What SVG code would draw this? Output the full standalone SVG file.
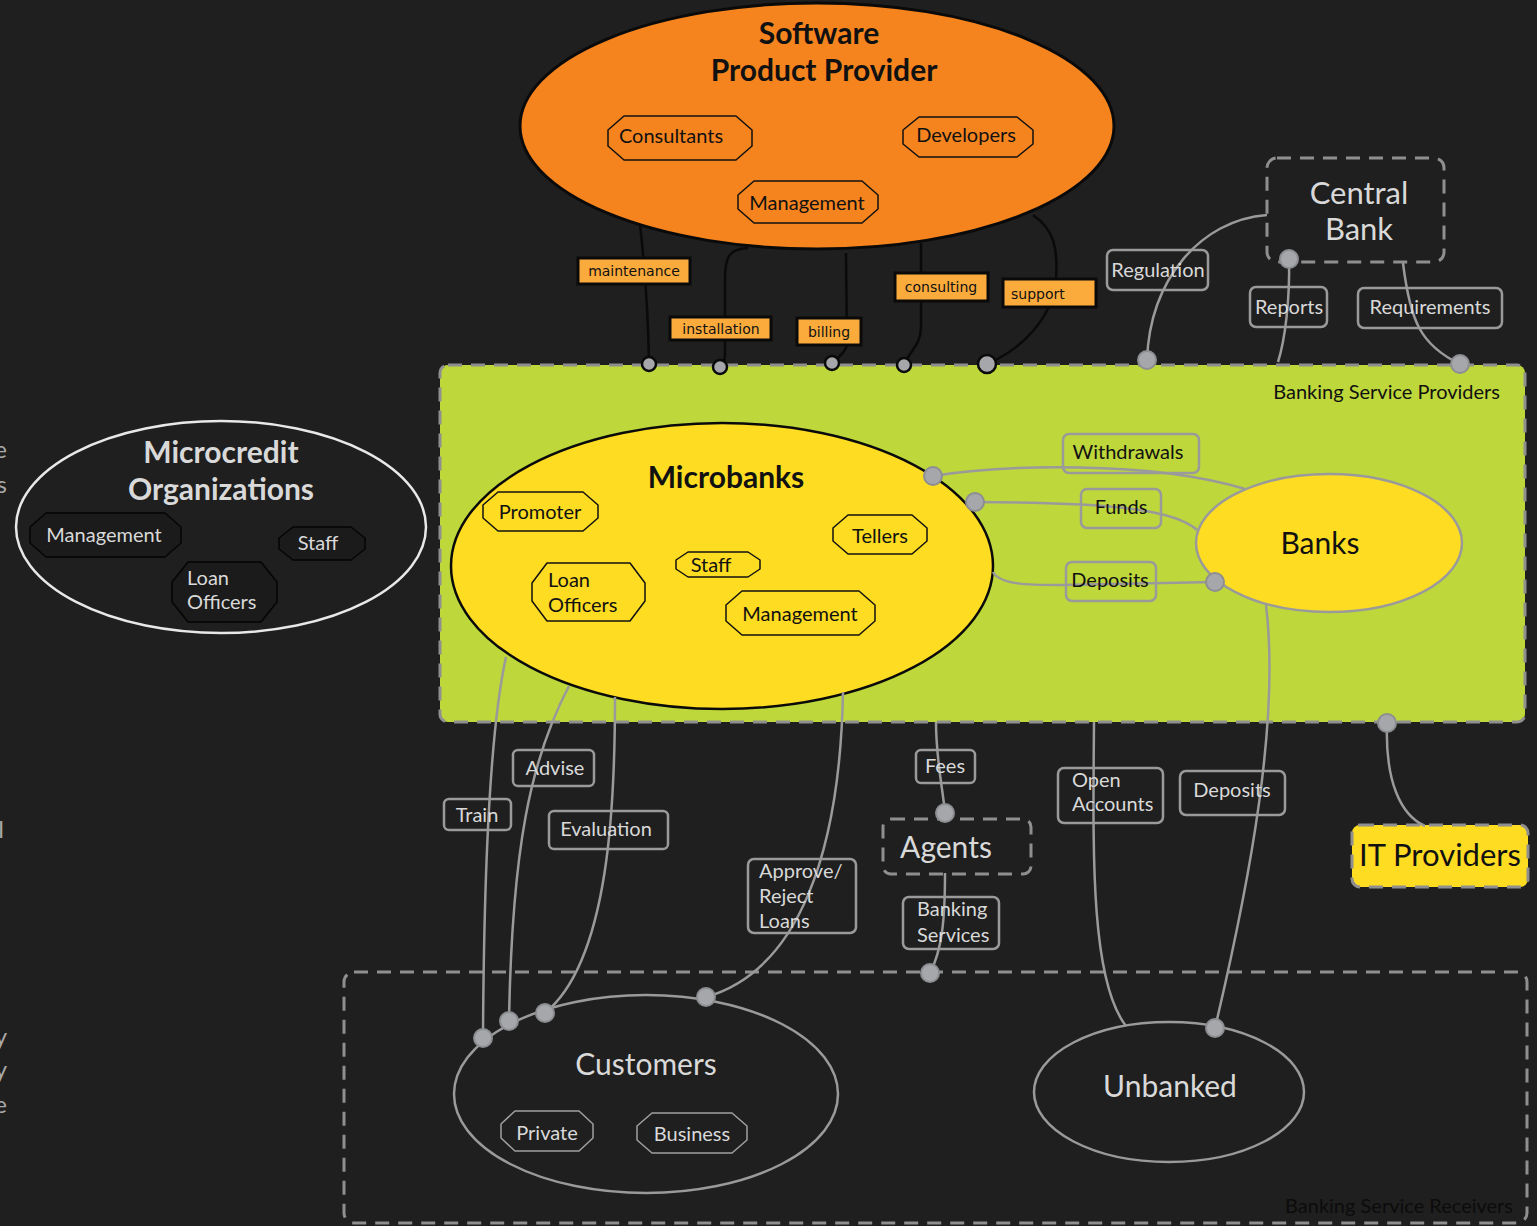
<svg xmlns="http://www.w3.org/2000/svg" width="1537" height="1226" viewBox="0 0 1537 1226">
  <defs>
    <style>
      .t { font-family: Lato, "Open Sans", "Liberation Sans", sans-serif; }
      .title { font-weight: bold; font-size: 30px; text-anchor: middle; }
      .dark { fill: #111; }
      .light { fill: #d9d9d9; }
      .mid { text-anchor: middle; }
      .sub { font-size: 20px; }
      .big { font-size: 30px; text-anchor: middle; }
      .group { fill: none; stroke: #8f8f8f; stroke-width: 3; stroke-dasharray: 14 9; }
      .sub-y { fill: #fddc22; stroke: #111; stroke-width: 1.5; stroke-linejoin: round; }
      .sub-o { fill: #f5841f; stroke: #111; stroke-width: 1.5; stroke-linejoin: round; }
      .sub-d { fill: #1b1b1b; stroke: #050505; stroke-width: 1.5; stroke-linejoin: round; }
      .sub-g { fill: none; stroke: #a0a0a0; stroke-width: 1.5; stroke-linejoin: round; }
      .edge-k { fill: none; stroke: #0a0a0a; stroke-width: 2.5; }
      .edge-g { fill: none; stroke: #9a9a9a; stroke-width: 2.5; }
      .lbl-o { fill: #fbab3c; stroke: #0a0a0a; stroke-width: 3; }
      .lbl-g { fill: none; stroke: #9a9a9a; stroke-width: 2.5; }
      .lbl-o-text { font-family: "DejaVu Sans", Verdana, sans-serif; font-size: 14px; fill: #111; text-anchor: middle; }
      .dot { fill: #a5a7ab; stroke: #8c8e92; stroke-width: 2; }
      .dot-k { fill: #a5a7ab; stroke: #0a0a0a; stroke-width: 2.5; }
    </style>
  </defs>

  <rect x="0" y="0" width="1537" height="1226" fill="#1f1f1f"/>

  <!-- clipped text fragments at the left edge -->
  <g class="t" font-size="24" fill="#a8a8a8" text-anchor="end">
    <text x="7" y="458">e</text>
    <text x="7" y="493">s</text>
    <text x="4" y="838">l</text>
    <text x="7" y="1045">y</text>
    <text x="7" y="1078">y</text>
    <text x="7" y="1113">e</text>
  </g>

  <!-- containers -->
  <g id="banking-service-providers">
    <rect x="440" y="365" width="1085" height="357" rx="8" fill="#bed73b" class="group" style="fill:#bed73b"/>
    <text class="t dark" x="1500" y="399" font-size="20" text-anchor="end">Banking Service Providers</text>
  </g>

  <g id="banking-service-receivers">
    <rect x="344" y="972" width="1183" height="251" rx="10" class="group"/>
    <text class="t" x="1513" y="1213" font-size="20" text-anchor="end" fill="#0c0c0c">Banking Service Receivers</text>
  </g>

  <!-- Software Product Provider -->
  <g id="software-product-provider">
    <ellipse cx="817" cy="126" rx="297" ry="123" fill="#f5841f" stroke="#0a0a0a" stroke-width="3"/>
    <text class="t title dark" x="819" y="44">Software</text>
    <text class="t title dark" x="824" y="81">Product Provider</text>
    <path class="sub-o" d="M624,116 L736,116 L752,130 L752,146 L736,160 L624,160 L608,146 L608,130 Z"/>
    <text class="t sub dark mid" x="671" y="143">Consultants</text>
    <path class="sub-o" d="M919,117 L1017,117 L1033,130 L1033,144 L1017,157 L919,157 L903,144 L903,130 Z"/>
    <text class="t sub dark mid" x="966" y="142">Developers</text>
    <path class="sub-o" d="M754,181 L862,181 L878,195 L878,209 L862,223 L754,223 L738,209 L738,195 Z"/>
    <text class="t sub dark mid" x="807" y="210">Management</text>
  </g>

  <!-- Central Bank -->
  <g id="central-bank">
    <rect x="1267" y="158" width="177" height="104" rx="10" class="group"/>
    <text class="t light" x="1359" y="204" font-size="31" text-anchor="middle">Central</text>
    <text class="t light" x="1359" y="240" font-size="31" text-anchor="middle">Bank</text>
  </g>

  <!-- Microcredit Organizations -->
  <g id="microcredit-organizations">
    <ellipse cx="221" cy="527" rx="205" ry="106" fill="none" stroke="#e8e8e8" stroke-width="2.5"/>
    <text class="t title light" x="221" y="463">Microcredit</text>
    <text class="t title light" x="221" y="500">Organizations</text>
    <path class="sub-d" d="M46,513 L165,513 L181,527 L181,543 L165,557 L46,557 L30,543 L30,527 Z"/>
    <text class="t sub light mid" x="104" y="542">Management</text>
    <path class="sub-d" d="M293,527 L351,527 L365,538 L365,549 L351,560 L293,560 L279,549 L279,538 Z"/>
    <text class="t sub light mid" x="318" y="550">Staff</text>
    <path class="sub-d" d="M188,562 L261,562 L277,582 L277,602 L261,622 L188,622 L172,602 L172,582 Z"/>
    <text class="t sub light" x="187" y="585">Loan</text>
    <text class="t sub light" x="187" y="609">Officers</text>
  </g>

  <!-- Microbanks -->
  <g id="microbanks">
    <ellipse cx="722" cy="566" rx="271" ry="143" fill="#fddc22" stroke="#0a0a0a" stroke-width="2.5"/>
    <text class="t title dark" x="726" y="488">Microbanks</text>
    <path class="sub-y" d="M498,492 L583,492 L598,505 L598,518 L583,531 L498,531 L483,518 L483,505 Z"/>
    <text class="t sub dark mid" x="540" y="519">Promoter</text>
    <path class="sub-y" d="M547,563 L630,563 L645,583 L645,601 L630,621 L547,621 L532,601 L532,583 Z"/>
    <text class="t sub dark" x="548" y="587">Loan</text>
    <text class="t sub dark" x="548" y="612">Officers</text>
    <path class="sub-y" d="M688,552 L748,552 L760,560 L760,569 L748,577 L688,577 L676,569 L676,560 Z"/>
    <text class="t sub dark mid" x="711" y="572">Staff</text>
    <path class="sub-y" d="M848,515 L912,515 L927,528 L927,541 L912,554 L848,554 L833,541 L833,528 Z"/>
    <text class="t sub dark mid" x="880" y="543">Tellers</text>
    <path class="sub-y" d="M742,591 L859,591 L875,605 L875,621 L859,635 L742,635 L726,621 L726,605 Z"/>
    <text class="t sub dark mid" x="800" y="621">Management</text>
  </g>

  <!-- Banks -->
  <g id="banks">
    <ellipse cx="1329" cy="543" rx="133" ry="69" fill="#fddc22" stroke="#9a9a9a" stroke-width="2.5"/>
    <text class="t big dark" x="1320" y="554">Banks</text>
  </g>

  <!-- Agents -->
  <g id="agents">
    <rect x="883" y="819" width="148" height="55" rx="8" class="group"/>
    <text class="t big light" x="946" y="858">Agents</text>
  </g>

  <!-- IT Providers -->
  <g id="it-providers">
    <rect x="1352" y="825" width="176" height="62" rx="8" fill="#fddc22" class="group" style="fill:#fddc22"/>
    <text class="t dark" x="1440" y="866" font-size="31" text-anchor="middle">IT Providers</text>
  </g>

  <!-- Customers -->
  <g id="customers">
    <ellipse cx="646" cy="1094" rx="192" ry="99" fill="none" stroke="#9a9a9a" stroke-width="2.5"/>
    <text class="t big light" x="646" y="1075">Customers</text>
    <path class="sub-g" d="M515,1111 L579,1111 L593,1124 L593,1138 L579,1151 L515,1151 L501,1138 L501,1124 Z"/>
    <text class="t sub light mid" x="547" y="1140">Private</text>
    <path class="sub-g" d="M652,1113 L732,1113 L747,1126 L747,1140 L732,1153 L652,1153 L637,1140 L637,1126 Z"/>
    <text class="t sub light mid" x="692" y="1141">Business</text>
  </g>

  <!-- Unbanked -->
  <g id="unbanked">
    <ellipse cx="1169" cy="1092" rx="135" ry="70" fill="none" stroke="#9a9a9a" stroke-width="2.5"/>
    <text class="t big light" x="1170" y="1097">Unbanked</text>
  </g>

  <!-- connectors -->
  <g id="connectors">
    <path class="edge-k" d="M640,224 C644,260 648,300 649,364"/>
    <path class="edge-k" d="M748,248 C728,249 725,258 725,280 L725,355 Q725,362 720,367"/>
    <path class="edge-k" d="M846,253 L847,345 Q846,352 832,363"/>
    <path class="edge-k" d="M921,243 L921,327 C921,345 910,350 904,365"/>
    <path class="edge-k" d="M1033,215 C1055,230 1058,250 1056,280 C1052,320 1020,350 987,364"/>

    <path class="edge-g" d="M1267,215 C1200,220 1150,280 1147,360"/>
    <path class="edge-g" d="M1289,259 C1290,300 1285,340 1278,362"/>
    <path class="edge-g" d="M1403,263 C1410,320 1420,345 1460,364"/>

    <path class="edge-g" d="M933,476 C1000,465 1150,460 1245,489"/>
    <path class="edge-g" d="M975,502 C1080,503 1170,505 1197,530"/>
    <path class="edge-g" d="M993,572 C1000,585 1030,585 1060,585 L1215,582"/>

    <path class="edge-g" d="M506,657 C492,720 484,850 483,1038"/>
    <path class="edge-g" d="M569,686 C530,760 512,850 509,1021"/>
    <path class="edge-g" d="M615,697 C615,800 610,960 545,1013"/>
    <path class="edge-g" d="M843,692 C840,850 800,970 706,997"/>
    <path class="edge-g" d="M936,722 C936,760 943,790 945,813"/>
    <path class="edge-g" d="M945,873 C945,920 942,950 930,973"/>
    <path class="edge-g" d="M1094,722 C1093,850 1090,980 1126,1026"/>
    <path class="edge-g" d="M1266,605 C1280,720 1250,880 1215,1028"/>
    <path class="edge-g" d="M1387,723 C1385,780 1400,815 1425,826"/>
  </g>

  <!-- connector labels -->
  <g id="edge-labels">
    <rect class="lbl-o" x="578" y="258" width="112" height="26"/>
    <text class="lbl-o-text" x="634" y="276">maintenance</text>
    <rect class="lbl-o" x="670" y="317" width="101" height="23"/>
    <text class="lbl-o-text" x="721" y="334">installation</text>
    <rect class="lbl-o" x="797" y="318" width="64" height="27"/>
    <text class="lbl-o-text" x="829" y="337">billing</text>
    <rect class="lbl-o" x="895" y="273" width="93" height="28"/>
    <text class="lbl-o-text" x="941" y="292">consulting</text>
    <rect class="lbl-o" x="1003" y="279" width="93" height="28"/>
    <text class="lbl-o-text" x="1011" y="299" text-anchor="start" style="text-anchor:start">support</text>

    <g class="t sub light">
      <rect class="lbl-g" x="1107" y="250" width="101" height="40" rx="6"/>
      <text class="mid" x="1158" y="277">Regulation</text>
      <rect class="lbl-g" x="1250" y="287" width="77" height="40" rx="6"/>
      <text class="mid" x="1289" y="314">Reports</text>
      <rect class="lbl-g" x="1358" y="288" width="144" height="40" rx="6"/>
      <text class="mid" x="1430" y="314">Requirements</text>

      <rect class="lbl-g" x="444" y="799" width="67" height="31" rx="5"/>
      <text class="mid" x="477" y="822">Train</text>
      <rect class="lbl-g" x="513" y="750" width="81" height="36" rx="5"/>
      <text class="mid" x="555" y="775">Advise</text>
      <rect class="lbl-g" x="549" y="811" width="119" height="38" rx="5"/>
      <text class="mid" x="606" y="836">Evaluation</text>
      <rect class="lbl-g" x="748" y="859" width="108" height="74" rx="6"/>
      <text x="759" y="878">Approve/</text>
      <text x="759" y="903">Reject</text>
      <text x="759" y="928">Loans</text>
      <rect class="lbl-g" x="916" y="750" width="59" height="33" rx="5"/>
      <text class="mid" x="945" y="773">Fees</text>
      <rect class="lbl-g" x="903" y="897" width="96" height="52" rx="6"/>
      <text x="917" y="916">Banking</text>
      <text x="917" y="942">Services</text>
      <rect class="lbl-g" x="1058" y="768" width="105" height="55" rx="6"/>
      <text x="1072" y="787">Open</text>
      <text x="1072" y="811">Accounts</text>
      <rect class="lbl-g" x="1180" y="771" width="105" height="44" rx="6"/>
      <text class="mid" x="1232" y="797">Deposits</text>
    </g>

    <g class="t sub dark">
      <rect class="lbl-g" x="1063" y="434" width="136" height="39" rx="6"/>
      <text class="mid" x="1128" y="459">Withdrawals</text>
      <rect class="lbl-g" x="1081" y="489" width="80" height="39" rx="6"/>
      <text class="mid" x="1121" y="514">Funds</text>
      <rect class="lbl-g" x="1066" y="562" width="90" height="39" rx="6"/>
      <text class="mid" x="1110" y="587">Deposits</text>
    </g>
  </g>

  <!-- connection points -->
  <g id="ports">
    <circle class="dot-k" cx="649" cy="364" r="7"/>
    <circle class="dot-k" cx="720" cy="367" r="7"/>
    <circle class="dot-k" cx="832" cy="363" r="7"/>
    <circle class="dot-k" cx="904" cy="365" r="7"/>
    <circle class="dot-k" cx="987" cy="364" r="9"/>

    <circle class="dot" cx="1289" cy="259" r="9"/>
    <circle class="dot" cx="1147" cy="360" r="9"/>
    <circle class="dot" cx="1460" cy="364" r="9"/>

    <circle class="dot" cx="933" cy="476" r="9"/>
    <circle class="dot" cx="975" cy="502" r="9"/>
    <circle class="dot" cx="1215" cy="582" r="9"/>

    <circle class="dot" cx="1387" cy="723" r="9"/>
    <circle class="dot" cx="945" cy="813" r="9"/>
    <circle class="dot" cx="930" cy="973" r="9"/>

    <circle class="dot" cx="483" cy="1038" r="9"/>
    <circle class="dot" cx="509" cy="1021" r="9"/>
    <circle class="dot" cx="545" cy="1013" r="9"/>
    <circle class="dot" cx="706" cy="997" r="9"/>
    <circle class="dot" cx="1215" cy="1028" r="9"/>
  </g>
</svg>
